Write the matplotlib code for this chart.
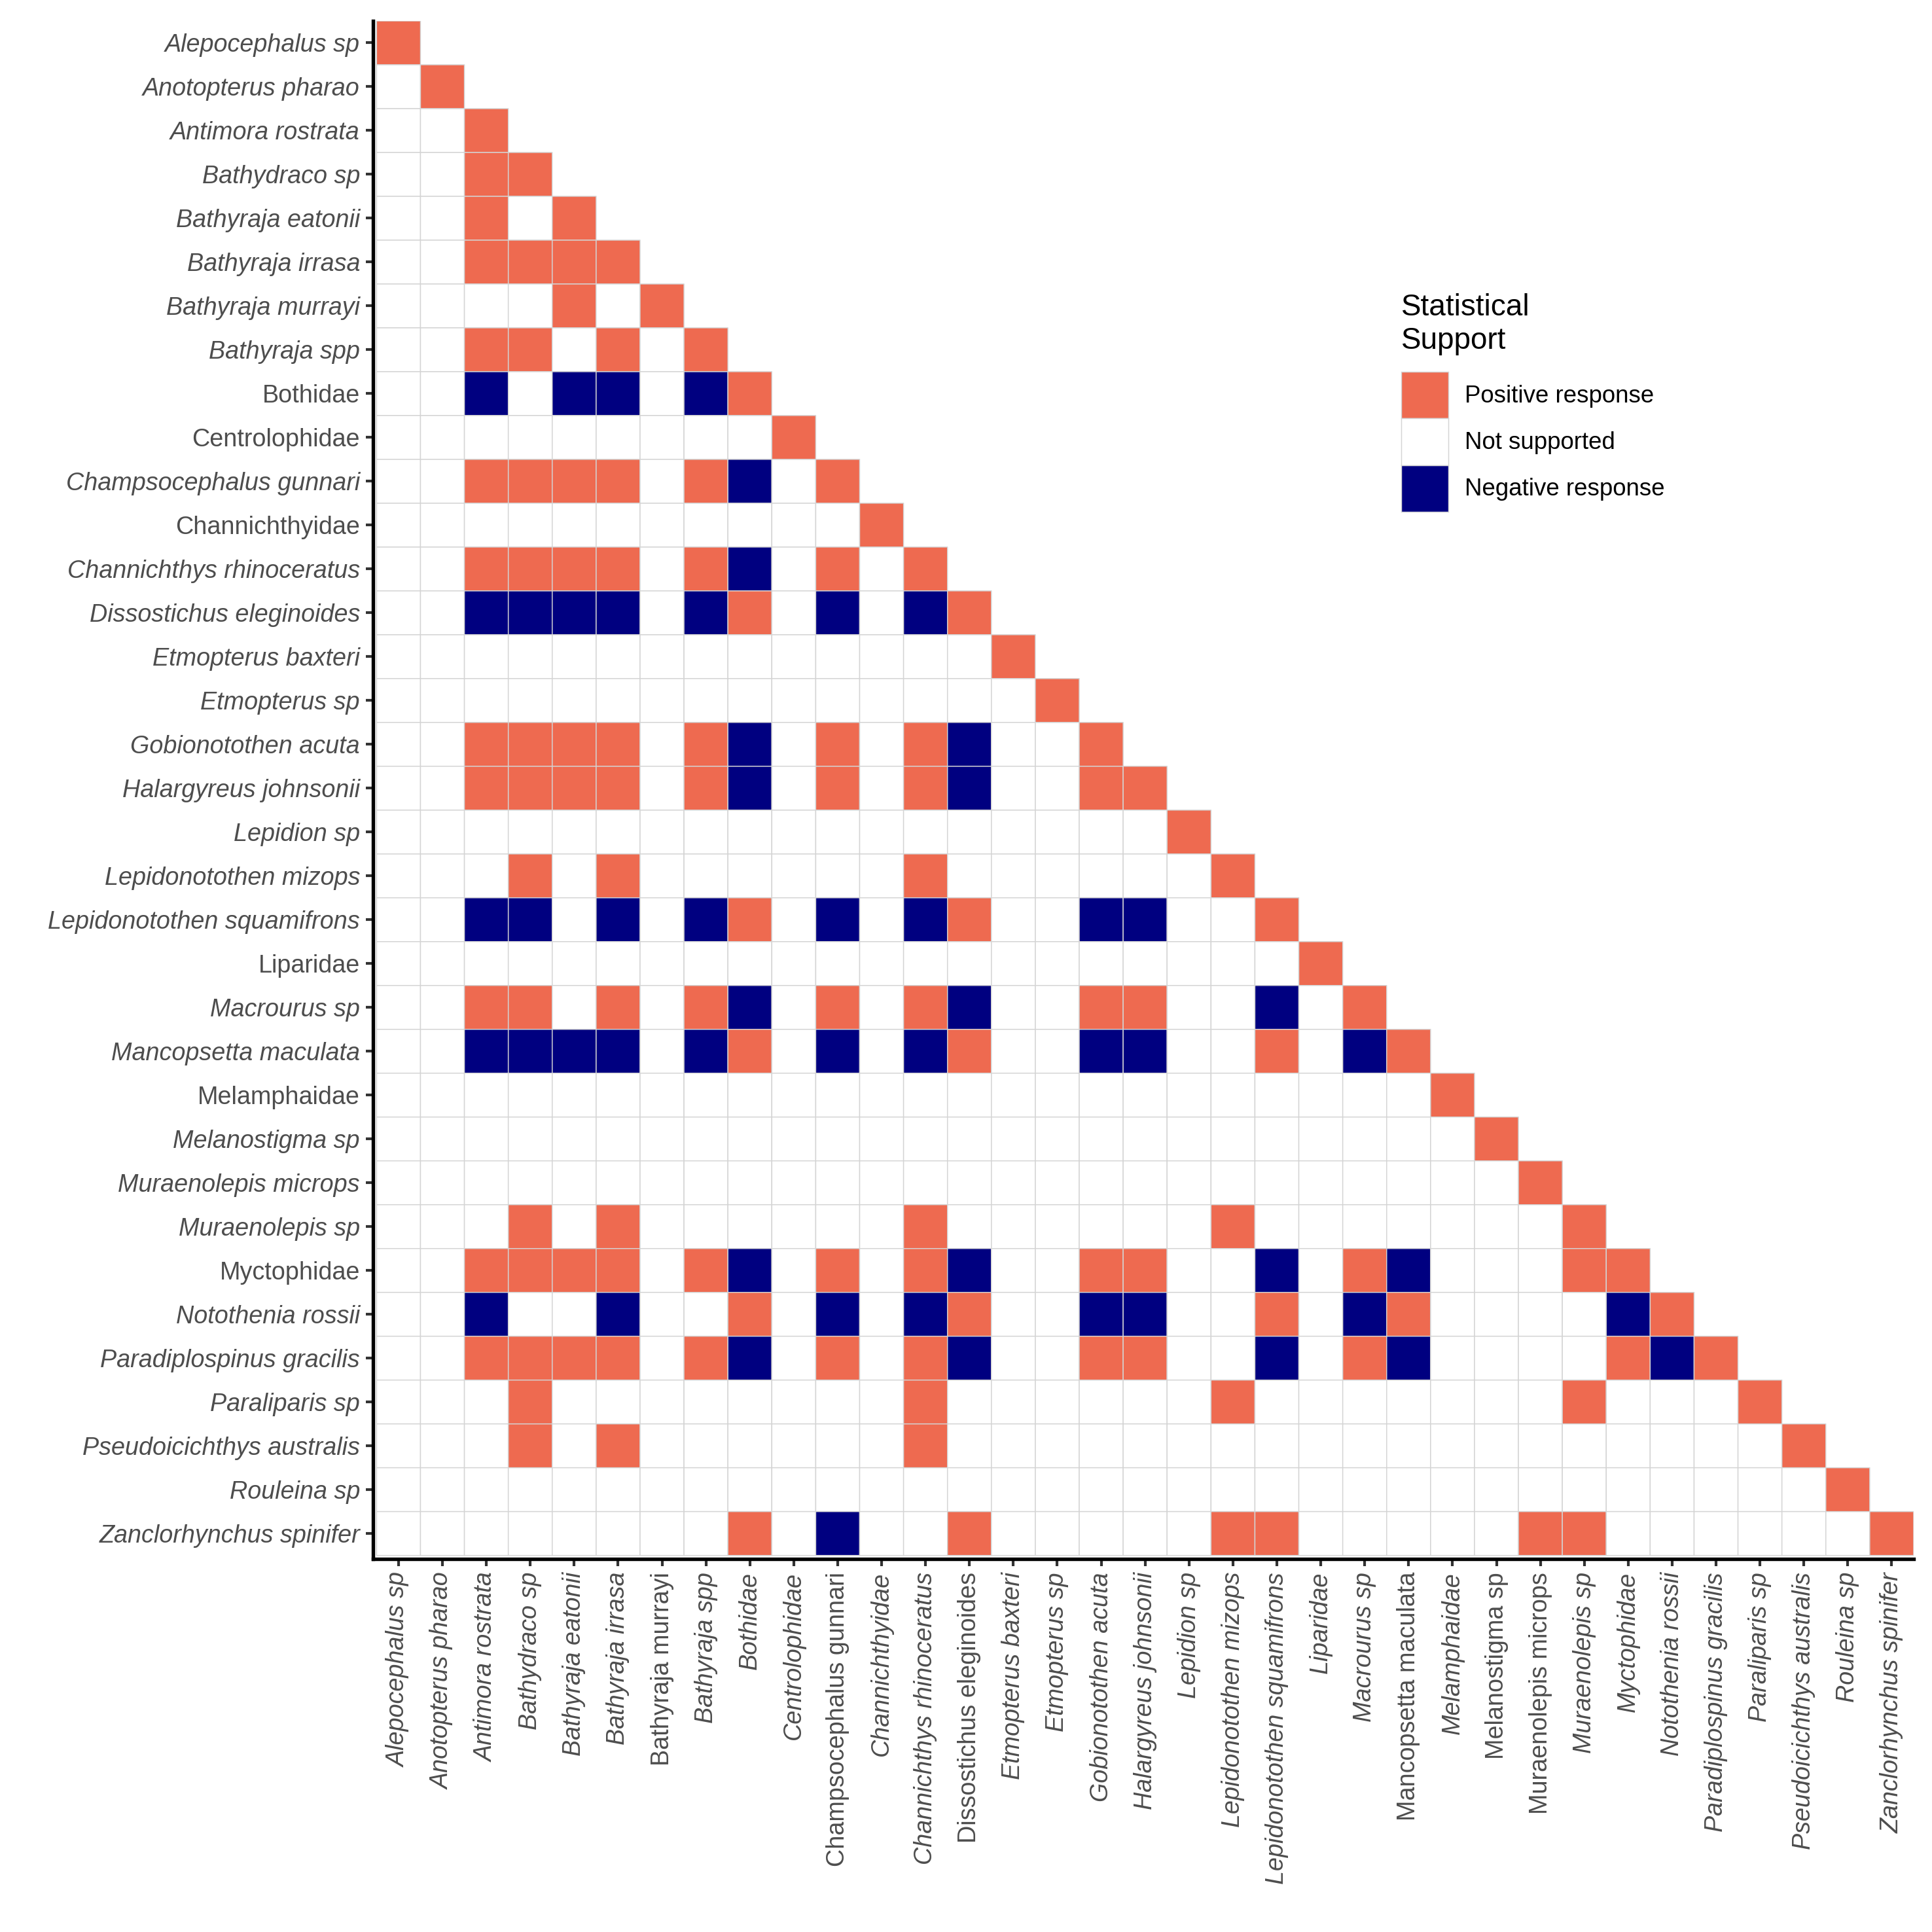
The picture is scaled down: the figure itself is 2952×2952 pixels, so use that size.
import numpy as np
import matplotlib
matplotlib.use("Agg")
import matplotlib.pyplot as plt
from matplotlib.colors import ListedColormap, BoundaryNorm
from matplotlib.patches import Patch

plt.rcParams['font.family'] = ['Liberation Sans', 'DejaVu Sans']

# Especies (mismo orden en filas y columnas)
species = [
    "Alepocephalus sp", "Anotopterus pharao", "Antimora rostrata", "Bathydraco sp",
    "Bathyraja eatonii", "Bathyraja irrasa", "Bathyraja murrayi", "Bathyraja spp",
    "Bothidae", "Centrolophidae", "Champsocephalus gunnari", "Channichthyidae",
    "Channichthys rhinoceratus", "Dissostichus eleginoides", "Etmopterus baxteri",
    "Etmopterus sp", "Gobionotothen acuta", "Halargyreus johnsonii", "Lepidion sp",
    "Lepidonotothen mizops", "Lepidonotothen squamifrons", "Liparidae", "Macrourus sp",
    "Mancopsetta maculata", "Melamphaidae", "Melanostigma sp", "Muraenolepis microps",
    "Muraenolepis sp", "Myctophidae", "Notothenia rossii", "Paradiplospinus gracilis",
    "Paraliparis sp", "Pseudoicichthys australis", "Rouleina sp", "Zanclorhynchus spinifer",
]

# Etiquetas sin cursiva en cada eje
upright_y = ["Bothidae", "Centrolophidae", "Channichthyidae", "Liparidae",
             "Melamphaidae", "Myctophidae"]
upright_x = ["Bathyraja murrayi", "Champsocephalus gunnari", "Dissostichus eleginoides",
             "Mancopsetta maculata", "Melanostigma sp", "Muraenolepis microps"]

# Columnas con respuesta positiva / negativa para cada fila
pos_cols = [
    [0], [1], [2], [2, 3], [2, 4], [2, 3, 4, 5], [4, 6], [2, 3, 5, 7], [8], [9],
    [2, 3, 4, 5, 7, 10], [11], [2, 3, 4, 5, 7, 10, 12], [8, 13], [14], [15],
    [2, 3, 4, 5, 7, 10, 12, 16], [2, 3, 4, 5, 7, 10, 12, 16, 17], [18],
    [3, 5, 12, 19], [8, 13, 20], [21], [2, 3, 5, 7, 10, 12, 16, 17, 22],
    [8, 13, 20, 23], [24], [25], [26], [3, 5, 12, 19, 27],
    [2, 3, 4, 5, 7, 10, 12, 16, 17, 22, 27, 28], [8, 13, 20, 23, 29],
    [2, 3, 4, 5, 7, 10, 12, 16, 17, 22, 28, 30], [3, 12, 19, 27, 31],
    [3, 5, 12, 32], [33], [8, 13, 19, 20, 26, 27, 34],
]
neg_cols = [
    [], [], [], [], [], [], [], [], [2, 4, 5, 7], [], [8], [], [8],
    [2, 3, 4, 5, 7, 10, 12], [], [], [8, 13], [8, 13], [], [],
    [2, 3, 5, 7, 10, 12, 16, 17], [], [8, 13, 20], [2, 3, 4, 5, 7, 10, 12, 16, 17, 22],
    [], [], [], [], [8, 13, 20, 23], [2, 5, 10, 12, 16, 17, 22, 28],
    [8, 13, 20, 23, 29], [], [], [], [10],
]

legend_labels = ["Positive response", "Not supported", "Negative response"]
col_pos = "#EE6A50"
col_none = "#FFFFFF"
col_neg = "#000080"

n = len(species)
Z = np.zeros((n, n))
for i in range(n):
    Z[i, pos_cols[i]] = 1
    Z[i, neg_cols[i]] = -1
mask = np.triu(np.ones((n, n), dtype=bool), k=1)
Z = np.ma.masked_array(Z, mask=mask)

cmap = ListedColormap([col_neg, col_none, col_pos])
norm = BoundaryNorm([-1.5, -0.5, 0.5, 1.5], cmap.N)

W = 2952
fig = plt.figure(figsize=(W / 300, W / 300), dpi=300)
ax = fig.add_axes([570 / W, 1 - 2382 / W, (2924 - 570) / W, (2382 - 32) / W])

edges = np.arange(n + 1) - 0.5
ax.pcolor(edges, edges, Z, cmap=cmap, norm=norm, edgecolors="#D4D4D4", linewidth=0.35)

ax.set_xlim(-0.58, n - 0.5)
ax.set_ylim(n - 0.42, -0.5)

for s in ["top", "right"]:
    ax.spines[s].set_visible(False)
for s in ["left", "bottom"]:
    ax.spines[s].set_linewidth(1.3)
    ax.spines[s].set_color("black")

ax.set_xticks(range(n))
ax.set_yticks(range(n))
ax.set_xticklabels(species, rotation=90)
ax.set_yticklabels(species)
ax.tick_params(axis="both", length=2.6, width=1.0, color="#333333",
               labelsize=9.05, labelcolor="#4D4D4D", pad=2.2)
for lab in ax.get_yticklabels():
    lab.set_style("normal" if lab.get_text() in upright_y else "italic")
for lab in ax.get_xticklabels():
    lab.set_style("normal" if lab.get_text() in upright_x else "italic")

handles = [Patch(facecolor=c, edgecolor="#D4D4D4", linewidth=0.35)
           for c in [col_pos, col_none, col_neg]]
leg = fig.legend(handles, legend_labels, title="Statistical\nSupport",
                 loc="upper left", bbox_to_anchor=(2141 / W, 1 - 448 / W),
                 frameon=False, fontsize=8.8, title_fontsize=11,
                 handlelength=1.95, handleheight=2.62, labelspacing=0.0,
                 handletextpad=0.7, borderpad=0, borderaxespad=0)
leg._legend_box.align = "left"
leg._legend_box.sep = 6

fig.savefig("out.png", dpi=300, facecolor="white")
